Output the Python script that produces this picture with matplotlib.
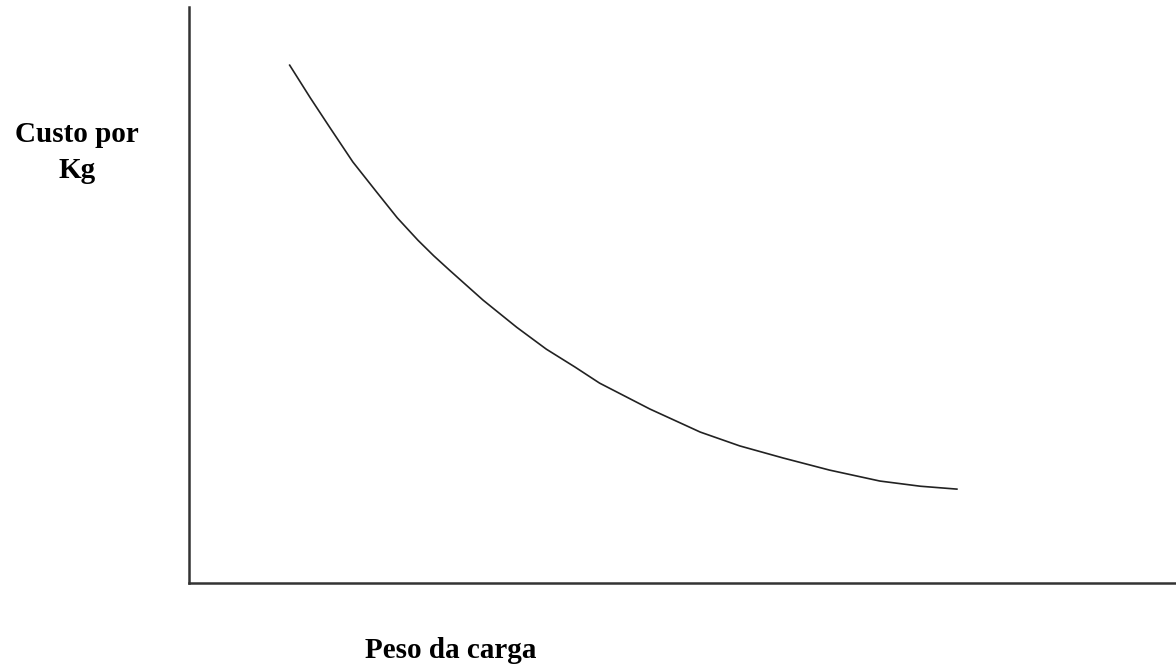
import numpy as np
import matplotlib.pyplot as plt

# curve (axes units 0..100)
peso = [10.2, 12.3, 14.3, 16.6, 19.0, 21.1, 23.2, 24.8, 26.4, 29.8, 33.2,
        36.2, 39.1, 41.6, 46.7, 51.8, 55.8, 60.2, 64.9, 70.0, 74.1, 77.8]
custo = [89.9, 84.2, 79.0, 73.1, 67.9, 63.4, 59.5, 56.8, 54.3, 49.1, 44.4,
         40.6, 37.5, 34.7, 30.2, 26.2, 23.8, 21.7, 19.6, 17.7, 16.8, 16.3]

ylabel_lines = ["Custo por", "Kg"]
xlabel = "Peso da carga"

plt.rcParams['font.family'] = ['Liberation Serif', 'DejaVu Serif']

fig = plt.figure(figsize=(11.76, 6.67), dpi=100)
ax = fig.add_axes([189/1176, 84/667, 1 - 189/1176, 576/667])

ax.plot(peso, custo, color='#222222', lw=1.2)

ax.set_xlim(0, 100)
ax.set_ylim(0, 100)
ax.set_xticks([])
ax.set_yticks([])
ax.spines['top'].set_visible(False)
ax.spines['right'].set_visible(False)
for s in ['left', 'bottom']:
    ax.spines[s].set_color('#333333')
    ax.spines[s].set_linewidth(1.8)

fig.text(77/1176, 1 - 142/667, ylabel_lines[0], ha='center', va='baseline',
         fontsize=21, fontweight='bold')
fig.text(77/1176, 1 - 178/667, ylabel_lines[1], ha='center', va='baseline',
         fontsize=21, fontweight='bold')
fig.text(451/1176, 1 - 658/667, xlabel, ha='center', va='baseline',
         fontsize=21, fontweight='bold')

fig.savefig("out.png", dpi=100)
